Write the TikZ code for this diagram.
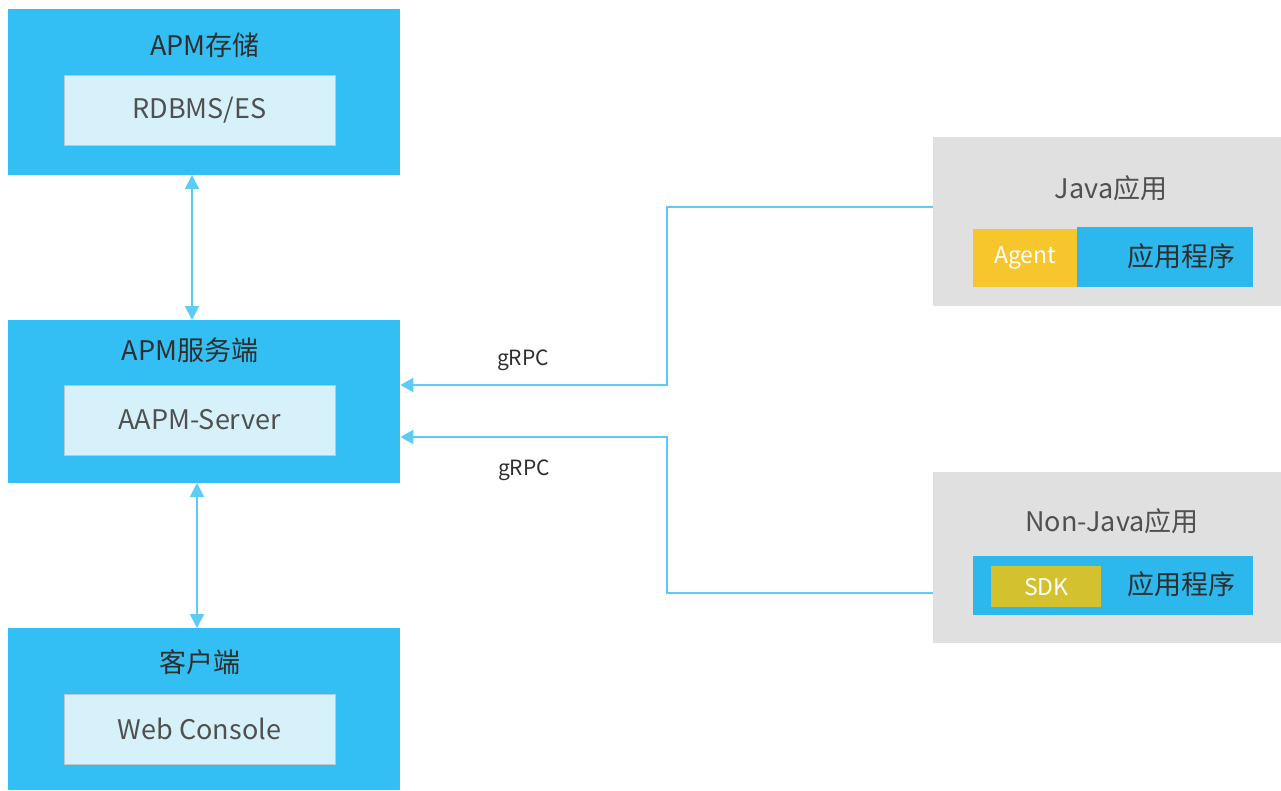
\documentclass[tikz,border=0pt]{standalone}
\usepackage{fontspec}
\setmainfont{Noto Sans CJK SC}
\usetikzlibrary{arrows.meta,positioning}
\definecolor{tierblue}{HTML}{33BFF3}
\definecolor{innerfill}{HTML}{D7F1FA}
\definecolor{innerline}{HTML}{B9C9CF}
\definecolor{linkblue}{HTML}{5CCBF5}
\definecolor{appgray}{HTML}{E0E0E0}
\definecolor{appblue}{HTML}{2CB8EC}
\definecolor{agentyellow}{HTML}{F7C52C}
\definecolor{sdkyellow}{HTML}{D4C12E}
\definecolor{txt}{HTML}{2E2E2E}
\definecolor{txtgray}{HTML}{505050}
\tikzset{
  tier/.style={fill=tierblue, draw=none, minimum width=392pt, anchor=north west, inner sep=0pt},
  inner/.style={fill=innerfill, draw=innerline, line width=0.8pt, minimum width=271pt, minimum height=70pt, inner sep=0pt,
    font=\fontsize{27}{30}\selectfont, text=txtgray},
  title/.style={font=\fontsize{27}{30}\selectfont, text=txt, inner sep=0pt},
  appbox/.style={fill=appgray, draw=none, minimum width=348pt, anchor=north west, inner sep=0pt},
  apptitle/.style={font=\fontsize{27}{30}\selectfont, text=txtgray, inner sep=0pt},
  tag/.style={inner sep=0pt, anchor=north west, font=\fontsize{23}{26}\selectfont, text=white},
  link/.style={draw=linkblue, line width=2pt, -{Triangle[length=13pt,width=14pt]}},
  biglink/.style={draw=linkblue, line width=2pt, {Triangle[length=14pt,width=14pt]}-{Triangle[length=14pt,width=14pt]}},
  lbl/.style={font=\fontsize{21}{24}\selectfont, text=txt, inner sep=0pt},
}
\begin{document}
\begin{tikzpicture}[x=1pt,y=-1pt]
\useasboundingbox (0,0) rectangle (1281,790);

% server-side tiers
\node[tier, minimum height=166pt] (store) at (8,9) {};
\node[title] (storeT) at (205,45) {APM存储};
\node[inner] (storeI) at (199.5,110) {RDBMS/ES};

\node[tier, minimum height=163pt] (srv) at (8,320) {};
\node[title] (srvT) at (190,350) {APM服务端};
\node[inner] (srvI) at (199.5,420) {AAPM-Server};

\node[tier, minimum height=162pt] (cli) at (8,628) {};
\node[title] (cliT) at (200,662) {客户端};
\node[inner] (cliI) at (199.5,729) {Web Console};

% instrumented applications
\node[appbox, minimum height=169pt] (java) at (933,137) {};
\node[apptitle] (javaT) at (1111,188) {Java应用};
\node[tag, fill=agentyellow, minimum width=104pt, minimum height=58pt] (agent) at (973,229) {Agent};
\node[fill=appblue, minimum width=176pt, minimum height=60pt, inner sep=0pt, anchor=north west] (japp) at (1077,227) {};
\node[title] at (1181,256) {应用程序};

\node[appbox, minimum height=171pt] (nonjava) at (933,472) {};
\node[apptitle] (nonjavaT) at (1112,521) {Non-Java应用};
\node[fill=appblue, minimum width=280pt, minimum height=59pt, inner sep=0pt, anchor=north west] (napp) at (973,556) {};
\node[tag, fill=sdkyellow, minimum width=110pt, minimum height=41pt] (sdk) at (991,566) {SDK};
\node[title] at (1181,584) {应用程序};

% tier links
\draw[biglink] (192,175) -- (192,320);
\draw[biglink] (197,483) -- (197,628);

% reporting links
\coordinate (j1) at (java.west |- 0,207);
\coordinate (n1) at (nonjava.west |- 0,593);
\draw[link] (j1) -- (667,207) -- (667,385) -- (srv.east |- 0,385);
\draw[link] (n1) -- (667,593) -- (667,437) -- (srv.east |- 0,437);
\node[lbl] (g1) at (523,360) {gRPC};
\node[lbl] (g2) at (524,470) {gRPC};
\end{tikzpicture}
\end{document}
